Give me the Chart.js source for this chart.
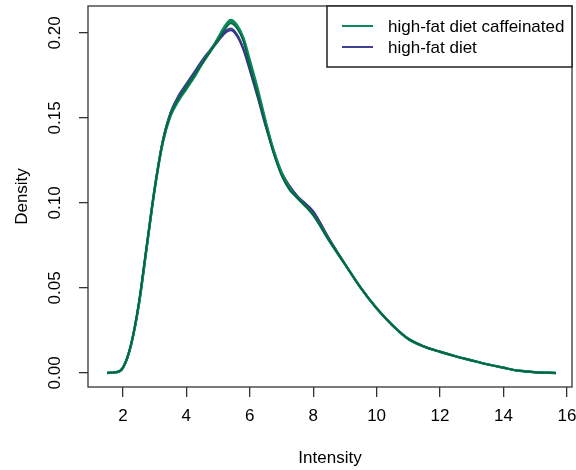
<!DOCTYPE html>
<html>
<head>
<meta charset="utf-8">
<script src="https://cdn.jsdelivr.net/npm/chart.js@4"></script>
<style>
  body { margin: 0; background: #fff; }
  #wrap { width: 576px; height: 470px; }
</style>
</head>
<body>
<div id="wrap"><canvas id="densityChart"></canvas></div>
<script>
const intensity = [1.5, 1.75, 2, 2.25, 2.5, 2.75, 3, 3.25, 3.5, 3.75, 4, 4.25, 4.5, 4.75, 5, 5.2, 5.4, 5.6, 5.8, 6,
  6.25, 6.5, 6.75, 7, 7.25, 7.5, 8, 8.5, 9, 9.5, 10, 10.5, 11, 11.5, 12, 12.5, 13, 13.5, 14, 14.5, 15, 15.65];

// high-fat diet caffeinated (three samples)
const cafA = [0, 0.0003, 0.003, 0.016, 0.040, 0.074, 0.108, 0.135, 0.151, 0.160, 0.167, 0.174, 0.182, 0.189, 0.197, 0.2035, 0.2075, 0.2045, 0.197, 0.184,
  0.167, 0.148, 0.131, 0.118, 0.109, 0.103, 0.093, 0.078, 0.064, 0.050, 0.038, 0.028, 0.020, 0.0155, 0.0124, 0.0097, 0.0073, 0.005, 0.003, 0.0012, 0.0004, 0];
const cafB = [0, 0.0003, 0.003, 0.016, 0.040, 0.074, 0.108, 0.135, 0.152, 0.161, 0.168, 0.175, 0.182, 0.189, 0.196, 0.2025, 0.2065, 0.2035, 0.196, 0.182,
  0.165, 0.147, 0.130, 0.117, 0.108, 0.103, 0.093, 0.078, 0.064, 0.050, 0.038, 0.028, 0.020, 0.0155, 0.0124, 0.0097, 0.0073, 0.005, 0.003, 0.0012, 0.0004, 0];
const cafC = [0, 0.0003, 0.003, 0.016, 0.041, 0.075, 0.108, 0.135, 0.152, 0.161, 0.168, 0.175, 0.182, 0.189, 0.196, 0.2015, 0.2055, 0.2025, 0.195, 0.181,
  0.164, 0.146, 0.129, 0.116, 0.108, 0.103, 0.093, 0.078, 0.064, 0.050, 0.038, 0.028, 0.020, 0.0155, 0.0124, 0.0097, 0.0073, 0.005, 0.003, 0.0012, 0.0004, 0];

// high-fat diet (two samples)
const plainA = [0, 0.0003, 0.003, 0.016, 0.040, 0.074, 0.108, 0.136, 0.153, 0.163, 0.170, 0.177, 0.184, 0.190, 0.196, 0.2005, 0.2025, 0.199, 0.191, 0.179,
  0.163, 0.146, 0.131, 0.118, 0.110, 0.104, 0.095, 0.079, 0.064, 0.050, 0.038, 0.028, 0.020, 0.0155, 0.0124, 0.0097, 0.0073, 0.005, 0.003, 0.0012, 0.0004, 0];
const plainB = [0, 0.0003, 0.003, 0.016, 0.040, 0.074, 0.108, 0.136, 0.153, 0.162, 0.169, 0.176, 0.183, 0.189, 0.195, 0.1995, 0.2015, 0.198, 0.190, 0.178,
  0.162, 0.145, 0.130, 0.118, 0.110, 0.104, 0.095, 0.079, 0.064, 0.050, 0.038, 0.028, 0.020, 0.0155, 0.0124, 0.0097, 0.0073, 0.005, 0.003, 0.0012, 0.0004, 0];

const xTicks = [2, 4, 6, 8, 10, 12, 14, 16];
const yTicks = [0, 0.05, 0.10, 0.15, 0.20];
const yTickLabels = ['0.00', '0.05', '0.10', '0.15', '0.20'];
const legendLabels = ['high-fat diet caffeinated', 'high-fat diet'];

const GREEN = '#0a8a5a';
const DARKGREEN = '#08603c';
const PURPLE = '#3f3f96';
const FONT = '"Liberation Sans", Arial, sans-serif';

function pts(arr) {
  return arr.map((d, i) => ({ x: intensity[i], y: d }));
}
function line(arr, color, w) {
  return {
    data: pts(arr),
    borderColor: color,
    borderWidth: w,
    pointRadius: 0,
    fill: false,
    cubicInterpolationMode: 'monotone'
  };
}

// R style box, rotated y labels, titles and legend
const rDecor = {
  id: 'rDecor',
  afterDraw(chart) {
    const c = chart.ctx;
    const a = chart.chartArea;
    const y = chart.scales.y;
    c.save();
    c.strokeStyle = '#333';
    c.lineWidth = 1.3;
    c.strokeRect(a.left, a.top, a.right - a.left, a.bottom - a.top);

    c.fillStyle = '#000';
    c.font = '17px ' + FONT;
    c.textAlign = 'center';
    c.textBaseline = 'middle';
    yTicks.forEach((v, i) => {
      c.save();
      c.translate(55, y.getPixelForValue(v));
      c.rotate(-Math.PI / 2);
      c.fillText(yTickLabels[i], 0, 0);
      c.restore();
    });

    c.fillText('Intensity', (a.left + a.right) / 2, 458);
    c.save();
    c.translate(22, (a.top + a.bottom) / 2);
    c.rotate(-Math.PI / 2);
    c.fillText('Density', 0, 0);
    c.restore();

    // legend
    const lx = 327, ly = a.top, lw = a.right - 327, lh = 61;
    c.fillStyle = '#fff';
    c.fillRect(lx, ly, lw, lh);
    c.strokeStyle = '#222';
    c.lineWidth = 1.5;
    c.strokeRect(lx, ly, lw, lh);
    const cols = [GREEN, PURPLE];
    legendLabels.forEach((t, i) => {
      const yy = ly + 20 + i * 21;
      c.strokeStyle = cols[i];
      c.lineWidth = 2;
      c.beginPath();
      c.moveTo(342, yy);
      c.lineTo(373, yy);
      c.stroke();
      c.fillStyle = '#000';
      c.textAlign = 'left';
      c.fillText(t, 388, yy + 1);
    });
    c.restore();
  }
};

// first dataset is painted last, so the caffeinated curves go on top
new Chart(document.getElementById('densityChart'), {
  type: 'line',
  data: {
    datasets: [
      line(cafC, DARKGREEN, 1.5),
      line(cafB, '#0c8c5c', 2.5),
      line(cafA, GREEN, 2.5),
      line(plainB, '#34348a', 2),
      line(plainA, PURPLE, 2)
    ]
  },
  options: {
    responsive: true,
    maintainAspectRatio: false,
    animation: false,
    layout: { padding: { top: 6, right: 4, left: 0, bottom: 0 } },
    plugins: { legend: { display: false }, tooltip: { enabled: false } },
    scales: {
      x: {
        type: 'linear',
        min: 0.9,
        max: 16.16,
        afterBuildTicks: s => { s.ticks = xTicks.map(v => ({ value: v })); },
        afterFit: s => { s.height = 83; s.paddingLeft = 0; s.paddingRight = 0; },
        border: { display: false },
        grid: { drawOnChartArea: false, drawTicks: true, tickLength: 10, color: '#333', lineWidth: 1.3 },
        ticks: { color: '#000', font: { size: 17, family: FONT }, padding: 9, maxRotation: 0 }
      },
      y: {
        type: 'linear',
        min: -0.0083,
        max: 0.2158,
        afterBuildTicks: s => { s.ticks = yTicks.map(v => ({ value: v })); },
        afterFit: s => { s.width = 88; s.paddingTop = 0; s.paddingBottom = 0; },
        border: { display: false },
        grid: { drawOnChartArea: false, drawTicks: true, tickLength: 9, color: '#333', lineWidth: 1.3 },
        ticks: { display: false }
      }
    }
  },
  plugins: [rDecor]
});
</script>
</body>
</html>
